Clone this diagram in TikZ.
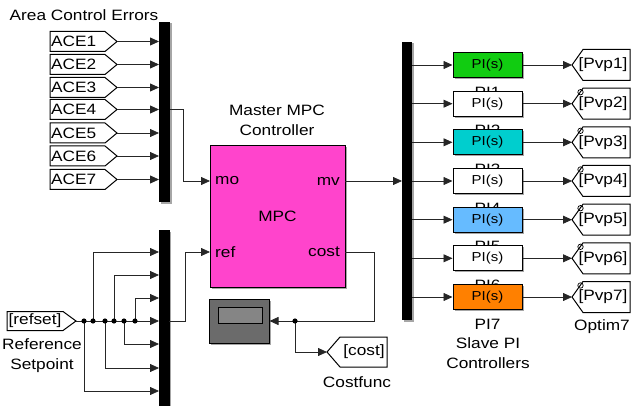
\documentclass[tikz,border=0pt]{standalone}
\usepackage{fontspec}
\setmainfont{Liberation Sans}[FakeStretch=1.15]
\usetikzlibrary{arrows.meta,shadows,calc}
\definecolor{mpcpink}{RGB}{255,68,204}
\definecolor{pigreen}{RGB}{17,204,17}
\definecolor{picyan}{RGB}{0,206,206}
\definecolor{piblue}{RGB}{102,187,255}
\definecolor{piorange}{RGB}{255,128,0}
\begin{document}
\begin{tikzpicture}[x=1pt,y=-1pt,
  font=\fontsize{15}{17}\selectfont,
  wire/.style={line width=0.8pt, draw=black!85},
  arr/.style={wire, -{Triangle[length=9pt,width=8pt]}},
  blk/.style={draw=black, line width=1pt},
  sh/.style={drop shadow={shadow xshift=1.5pt,shadow yshift=-1.5pt,fill=black!35,opacity=1}},
  lbl/.style={inner sep=0pt, align=center},
  bar/.style={fill=black, inner sep=0pt, minimum width=11pt, sh},
  piblk/.style={blk, minimum width=69pt, minimum height=25pt, inner sep=0pt, font=\fontsize{13}{15}\selectfont, sh},
]
\useasboundingbox (0,0) rectangle (634,406);

% ---------- Area control errors ----------
\node[lbl] (acetitle) at (84,15) {Area Control Errors};
\node[bar, minimum height=180pt] (mux1) at (164.5,112) {};
\foreach \i/\y in {1/41.5,2/64.5,3/87.5,4/109.5,5/133,6/156,7/179.5} {
  \draw[blk, fill=white] (50,\y-10) -- (105,\y-10) -- (117,\y) -- (105,\y+10) -- (50,\y+10) -- cycle;
  \node[lbl, anchor=west] (ace\i) at (51,\y) {ACE\i};
  \coordinate (acet\i) at (117,\y);
  \coordinate (mxa\i) at (159,\y);
  \draw[arr] (acet\i) -- (mxa\i);
}

% ---------- MPC ----------
\node[lbl] (mpctitle) at (277,120) {Master MPC\\[3pt]Controller};
\node[blk, fill=mpcpink, minimum width=135pt, minimum height=141pt, sh] (mpc) at (277.5,216.5) {MPC};
\coordinate (mo) at (210,181);
\coordinate (mv) at (345,181);
\coordinate (ref) at (210,252);
\coordinate (cost) at (345,252);
\node[lbl, anchor=west] (molbl) at (215,181) {mo};
\node[lbl, anchor=east] (mvlbl) at (340,181) {mv};
\node[lbl, anchor=west] (reflbl) at (215,252) {ref};
\node[lbl, anchor=east] (costlbl) at (340,252) {cost};

\coordinate (mx1out) at (170,109);
\draw[arr] (mx1out) -- ++(13,0) |- (mo);

% ---------- Reference setpoint ----------
\node[bar, minimum height=180pt] (mux3) at (164,320) {};
\draw[blk, fill=white] (7,311.5) -- (63,311.5) -- (76,321) -- (63,330.5) -- (7,330.5) -- cycle;
\node[lbl] (refset) at (35,320.5) {[refset]};
\node[lbl] (reflabel) at (42,356) {Reference\\[3pt]Setpoint};
\coordinate (rs) at (76,321);
\foreach \k/\y in {1/252,2/275,3/298,4/321,5/344,6/368,7/391} {
  \coordinate (mxr\k) at (159,\y);
}
\coordinate (p1) at (84,321);
\coordinate (p2) at (93,321);
\coordinate (p3) at (105,321);
\coordinate (p4) at (114,321);
\coordinate (p5) at (124,321);
\coordinate (p6) at (135,321);
\draw[arr] (rs) -- (mxr4);
\draw[arr] (p2) |- (mxr1);
\draw[arr] (p4) |- (mxr2);
\draw[arr] (p6) |- (mxr3);
\draw[arr] (p5) |- (mxr5);
\draw[arr] (p3) |- (mxr6);
\draw[arr] (p1) |- (mxr7);
\foreach \p in {p1,p2,p3,p4,p5,p6} { \fill (\p) circle (2.6pt); }
\coordinate (mx3out) at (169,321);
\draw[arr] (mx3out) -- ++(16,0) |- (ref);

% ---------- Cost ----------
\node[blk, fill=black!58, minimum width=60pt, minimum height=44pt, inner sep=0pt, sh] (scope) at (239,321) {};
\node[draw=black, line width=0.8pt, fill=black!48, minimum width=44pt, minimum height=16pt, inner sep=0pt] (screen) at (240,315) {};
\coordinate (costj) at (295,321);
\coordinate (cg) at (327,352);
\draw[wire] (cost) -- ++(29,0) |- (costj);
\draw[arr] (costj) -- (scope.east);
\draw[arr] (costj) |- (cg);
\fill (costj) circle (2.6pt);
\draw[blk, fill=white] (327,352) -- (340,337) -- (387,337) -- (387,367) -- (340,367) -- cycle;
\node[lbl] (costtxt) at (364,352) {[cost]};
\node[lbl] (costfunc) at (357,382) {Costfunc};

% ---------- Slave PI ----------
\node[bar, minimum height=278pt, minimum width=10pt] (mux2) at (407,181) {};
\coordinate (mxb) at (402,181);
\draw[arr] (mv) -- (mxb);
\foreach \i/\y in {1/65,2/103.7,3/142.3,4/181,5/219.7,6/258.3,7/297} {
  \node[lbl] (pil\i) at (487.5,\y+27) {PI\i};
}
\foreach \i/\y/\c in {1/65/pigreen,2/103.7/white,3/142.3/picyan,4/181/white,5/219.7/piblue,6/258.3/white,7/297/piorange} {
  \node[piblk, fill=\c] (pi\i) at (487.5,\y) {PI(s)};
  \coordinate (mxo\i) at (412,\y);
  \draw[arr] (mxo\i) -- (pi\i.west);
  \draw[blk, fill=white] (572,\y) -- (583,\y-15.5) -- (630,\y-15.5) -- (630,\y+15.5) -- (583,\y+15.5) -- cycle;
  \coordinate (gt\i) at (572,\y);
  \draw[arr] (pi\i.east) -- (gt\i);
  \node[lbl] (pvp\i) at (603,\y) {[Pvp\i]};
}
\foreach \y in {103.7,142.3,181,219.7,258.3,297} {
  \draw[line width=0.7pt] (580.5,\y-11.5) circle (2.7pt);
}
\node[lbl] (slave) at (488,353.5) {Slave PI\\[3pt]Controllers};
\node[lbl] (optim) at (602,327) {Optim7};
\end{tikzpicture}
\end{document}
